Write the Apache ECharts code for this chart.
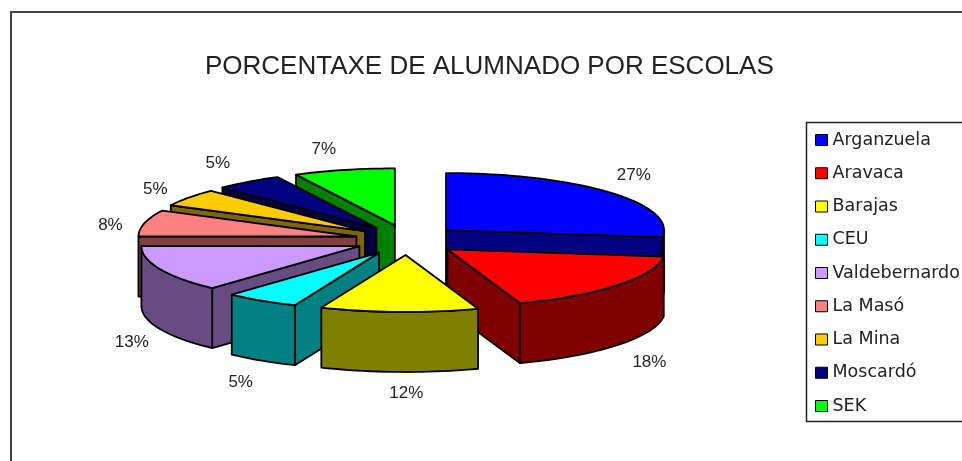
<!DOCTYPE html>
<html>
<head>
<meta charset="utf-8">
<title>Porcentaxe de alumnado por escolas</title>
<script src="https://cdn.jsdelivr.net/npm/echarts@6/dist/echarts.min.js"></script>
<style>
html,body{margin:0;padding:0;background:#fff;overflow:hidden}
#main{width:962px;height:461px}
</style>
</head>
<body>
<div id="main"></div>
<script>
// datos (los porcentajes se leen del angulo de cada porcion, la etiqueta redondea)
var categories = ['Arganzuela','Aravaca','Barajas','CEU','Valdebernardo','La Masó','La Mina','Moscardó','SEK'];
var percents = [27,17.6,11.71,5.49,13.2,7.51,5,5,7.49];
var topColors = ['#0000ff','#ff0000','#ffff00','#00ffff','#cc99ff','#ff8080','#ffcc00','#000080','#00ff00'];
var cutColors = ['#000080','#800000','#808000','#008080','#664c80','#804040','#806600','#000040','#008000'];
var rimColors = ['#000000','#800000','#808000','#008080','#664c80','#804040','#806600','#000040','#008000'];
// orden de pintado, de atras hacia delante
var drawOrder = [8,7,6,5,4,3,0,1,2];

// geometria de la tarta
var cx = 407, cy = 240, rx = 218, ry = 57;
var explodeX = 52, explodeY = 15, depth = 60;
var labelRx = 305, labelRy = 97;
var labelNudge = [[-2,-1],[5,1],[8,-4],[-2,1],[4,3],[0,8],[-5,6],[-10,2],[-12,4]];

var total = percents.reduce(function(a,b){return a+b;},0);
var starts = [];
percents.reduce(function(acc,v,i){starts[i]=acc;return acc+v;},0);

function rad(d){return d*Math.PI/180;}

function sliceRender(i){
    return function(params, api){
        var a = starts[i]/total*360;
        var b = a + api.value(0)/total*360;
        var mid = (a+b)/2;
        var ox = cx + Math.sin(rad(mid))*explodeX;
        var oy = cy - Math.cos(rad(mid))*explodeY;
        function pt(t,dz){
            return [ox+Math.sin(rad(t))*rx, oy-Math.cos(rad(t))*ry+dz];
        }
        function arc(t0,t1,dz){
            var out = [], n = Math.max(2,Math.ceil((t1-t0)/2));
            for(var k=0;k<=n;k++){out.push(pt(t0+(t1-t0)*k/n,dz));}
            return out;
        }
        function poly(points,fill){
            return {type:'polygon',shape:{points:points},silent:true,
                style:{fill:fill,stroke:'#000',lineWidth:1.8,lineJoin:'round'}};
        }
        var kids = [];
        // caras de corte que miran al frente
        if(Math.sin(rad(a))<-0.001){
            kids.push(poly([[ox,oy],pt(a,0),pt(a,depth),[ox,oy+depth]],cutColors[i]));
        }
        if(Math.sin(rad(b))>0.001){
            kids.push(poly([[ox,oy],pt(b,0),pt(b,depth),[ox,oy+depth]],cutColors[i]));
        }
        // pared exterior
        var w0 = Math.max(a,90), w1 = Math.min(b,270);
        if(w1>w0){
            kids.push(poly(arc(w0,w1,0).concat(arc(w0,w1,depth).reverse()),rimColors[i]));
        }
        // cara superior
        kids.push(poly([[ox,oy]].concat(arc(a,b,0)),topColors[i]));
        // etiqueta
        var front = Math.cos(rad(mid))<0 ? depth : 0;
        kids.push({type:'text',silent:true,style:{
            text:Math.round(api.value(0))+'%',
            x:cx+Math.sin(rad(mid))*labelRx+labelNudge[i][0],
            y:cy-Math.cos(rad(mid))*labelRy+front+labelNudge[i][1],
            fill:'#222',font:'17px "Liberation Sans"',align:'center',verticalAlign:'middle'
        }});
        return {type:'group',children:kids};
    };
}

var series = drawOrder.map(function(i){
    return {
        name:categories[i],
        type:'custom',
        coordinateSystem:'none',
        renderItem:sliceRender(i),
        itemStyle:{color:topColors[i]},
        data:[[percents[i]]]
    };
});

var myChart = echarts.init(document.getElementById('main'));
myChart.setOption({
    animation:false,
    backgroundColor:'#fff',
    title:{
        text:'PORCENTAXE DE ALUMNADO POR ESCOLAS',
        left:205,
        top:54,
        padding:0,
        textStyle:{color:'#222',fontFamily:'Liberation Sans',fontSize:26,fontWeight:'normal'}
    },
    legend:{
        orient:'vertical',
        left:815,
        top:131,
        padding:0,
        itemWidth:12,
        itemHeight:11,
        itemGap:15.25,
        selectedMode:false,
        icon:'rect',
        data:categories,
        itemStyle:{borderColor:'#000',borderWidth:1},
        textStyle:{color:'#222',fontFamily:'DejaVu Sans',fontSize:17.5,lineHeight:17}
    },
    graphic:[
        {type:'rect',silent:true,z:-1,shape:{x:11,y:12,width:970,height:470},
            style:{fill:'#fff',stroke:'#444',lineWidth:2}},
        {type:'rect',silent:true,z:-1,shape:{x:806.5,y:122.5,width:170,height:299},
            style:{fill:'#fff',stroke:'#222',lineWidth:1.5}}
    ],
    series:series
});
</script>
</body>
</html>
